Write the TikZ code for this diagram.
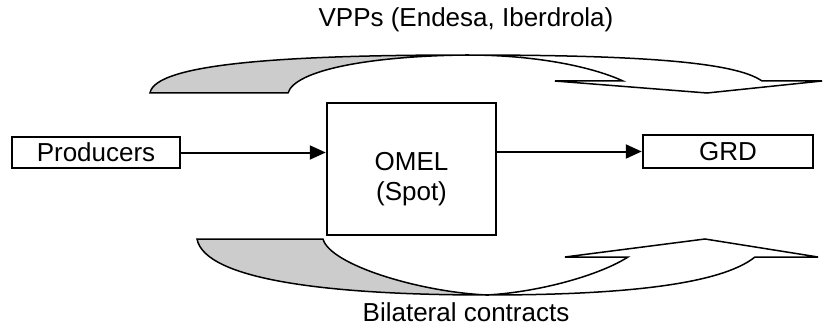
\documentclass[tikz,border=0pt]{standalone}
\usepackage{fontspec}
\setmainfont{Liberation Sans}
\usetikzlibrary{arrows.meta}
\definecolor{ribbongray}{RGB}{204,204,204}
\tikzset{
  boxnode/.style={draw, line width=2.5pt, rectangle, inner sep=0pt, font=\fontsize{26}{30}\selectfont},
  txt/.style={inner sep=0pt, font=\fontsize{26}{30}\selectfont},
  flow/.style={line width=2pt, -{Triangle[length=16pt,width=14pt]}},
  ribbon/.style={draw=black, line width=1.5pt, line join=miter},
}
\begin{document}
\begin{tikzpicture}[x=1pt,y=-1pt]
\useasboundingbox (0,0) rectangle (823,329);
% boxes
\node[boxnode, minimum width=168pt, minimum height=31pt] (prod) at (96,152.5) {Producers};
\node[boxnode, minimum width=169pt, minimum height=132pt] (omel) at (411.5,169) {};
\node[boxnode, minimum width=170pt, minimum height=33pt] (grd) at (728,151.5) {GRD};
\node[txt, anchor=base] (omelt) at (411.5,170.7) {OMEL};
\node[txt, anchor=base] (spot) at (411.5,200) {(Spot)};
% arrows
\draw[flow] (prod.east) -- (prod.east -| omel.west);
\draw[flow] (omel.east |- grd.west) -- (grd.west);
% top curved arrow
\fill[ribbongray] (150,93) .. controls (155,63) and (290,55) .. (467,55)
  .. controls (370,56) and (295,70) .. (288,93) -- cycle;
\draw[ribbon] (150,93) .. controls (155,63) and (290,55) .. (467,55)
  .. controls (640,55) and (735,62) .. (762,81) -- (822,81) -- (707,93) -- (555,81) -- (623,81)
  .. controls (595,68) and (540,55) .. (467,55)
  .. controls (370,56) and (295,70) .. (288,93) -- cycle;
% bottom curved arrow
\fill[ribbongray] (197,239) .. controls (205,280) and (330,295) .. (487,295)
  .. controls (420,292) and (330,265) .. (323,239) -- cycle;
\draw[ribbon] (197,239) .. controls (205,280) and (330,295) .. (487,295)
  .. controls (620,295) and (720,285) .. (755,257) -- (818,257) -- (705,239) -- (565,257) -- (628,257)
  .. controls (600,275) and (540,292) .. (487,295)
  .. controls (420,292) and (330,265) .. (323,239) -- cycle;
% labels
\node[txt, anchor=base] (vpp) at (466,27) {VPPs (Endesa, Iberdrola)};
\node[txt, anchor=base] (bil) at (466,321) {Bilateral contracts};
\end{tikzpicture}
\end{document}
